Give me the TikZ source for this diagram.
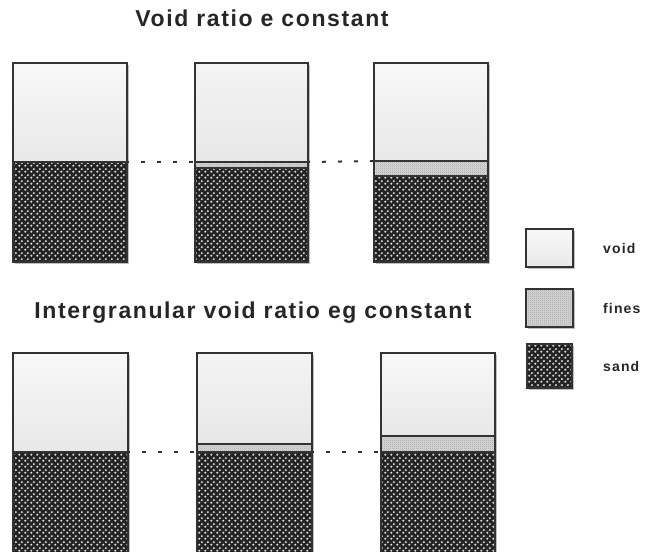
\documentclass[tikz,border=0pt]{standalone}
\usepackage{fontspec}
\setmainfont{Liberation Sans}
\newfontfamily\titlesans{Liberation Sans}[LetterSpace=7]
\newfontfamily\legendsans{Liberation Sans}[LetterSpace=8]
\usetikzlibrary{positioning, patterns, shadows}

% Koernung Sand / Feinanteil
\pgfdeclarepatternformonly{sandgrain}{\pgfqpoint{0pt}{0pt}}{\pgfqpoint{6pt}{6pt}}{\pgfqpoint{6pt}{6pt}}{%
  \pgfpathcircle{\pgfqpoint{1.5pt}{1.5pt}}{1.35pt}%
  \pgfpathcircle{\pgfqpoint{4.5pt}{4.5pt}}{1.35pt}%
  \pgfusepath{fill}}
\pgfdeclarepatternformonly{finegrain}{\pgfqpoint{0pt}{0pt}}{\pgfqpoint{2pt}{2pt}}{\pgfqpoint{2pt}{2pt}}{%
  \pgfpathcircle{\pgfqpoint{0.5pt}{0.5pt}}{0.4pt}%
  \pgfpathcircle{\pgfqpoint{1.5pt}{1.5pt}}{0.4pt}%
  \pgfusepath{fill}}

\definecolor{boxline}{HTML}{333333}
\definecolor{voidtop}{HTML}{F8F8F8}
\definecolor{voidbot}{HTML}{E8E8E8}
\definecolor{sandbg}{HTML}{232323}
\definecolor{sanddot}{HTML}{D6D6D6}
\definecolor{finesbg}{HTML}{D4D4D4}
\definecolor{finesdot}{HTML}{8E8E8E}

\tikzset{
  soilbox/.style={draw=boxline, line width=1.2pt, inner sep=0pt, outer sep=0pt,
    drop shadow={shadow xshift=2pt, shadow yshift=-2pt, fill=black, opacity=.25}},
  voidbox/.style={soilbox, top color=voidtop, bottom color=voidbot},
  voidmix/.style={soilbox, preaction={top color=voidtop, bottom color=voidbot},
    pattern=finegrain, pattern color=black!10},
  finesbox/.style={soilbox, preaction={fill=finesbg}, pattern=finegrain, pattern color=finesdot},
  sandbox/.style={soilbox, preaction={fill=sandbg}, pattern=sandgrain, pattern color=sanddot},
  topleft/.style={anchor=north west},
  levelline/.style={boxline, line width=2pt, dash pattern=on 4pt off 12pt, dash phase=-14pt},
  titletext/.style={anchor=base, inner sep=0pt, font=\titlesans\bfseries\fontsize{23}{27}\selectfont, text=black!85},
  legtext/.style={anchor=west, inner sep=0pt, font=\legendsans\bfseries\fontsize{14}{16}\selectfont, text=black!85}
}

\begin{document}
\begin{tikzpicture}[x=1pt, y=-1pt]
  \useasboundingbox (0,0) rectangle (647,551);
  \clip (0,0) rectangle (647,551);

  % Porenzahl e konstant
  \node[titletext] (t1) at (262,27) {Void ratio e constant};

  \node[voidbox, topleft, minimum width=114pt, minimum height=99pt] (v1) at (13,63) {};
  \node[sandbox, minimum width=114pt, minimum height=100pt, below=0pt of v1] (s1) {};

  \node[voidmix, topleft, minimum width=113pt, minimum height=99pt] (v2) at (195,63) {};
  \node[finesbox, minimum width=113pt, minimum height=6pt, below=0pt of v2] (f2) {};
  \node[sandbox, minimum width=113pt, minimum height=94pt, below=0pt of f2] (s2) {};

  \node[voidbox, topleft, minimum width=114pt, minimum height=98pt] (v3) at (374,63) {};
  \node[finesbox, minimum width=114pt, minimum height=15pt, below=0pt of v3] (f3) {};
  \node[sandbox, minimum width=114pt, minimum height=86pt, below=0pt of f3] (s3) {};

  \draw[levelline] (v1.south east) -- (v2.south west);
  \draw[levelline] (v2.south east) -- (v3.south west);

  % intergranulare Porenzahl eg konstant
  \node[titletext] (t2) at (253,318) {Intergranular void ratio eg constant};

  \node[voidbox, topleft, minimum width=115pt, minimum height=99pt] (w1) at (13,353) {};
  \node[sandbox, minimum width=115pt, minimum height=104pt, below=0pt of w1] (u1) {};

  \node[voidmix, topleft, minimum width=115pt, minimum height=91pt] (w2) at (197,353) {};
  \node[finesbox, minimum width=115pt, minimum height=8pt, below=0pt of w2] (g2) {};
  \node[sandbox, minimum width=115pt, minimum height=104pt, below=0pt of g2] (u2) {};

  \node[voidbox, topleft, minimum width=114pt, minimum height=83pt] (w3) at (381,353) {};
  \node[finesbox, minimum width=114pt, minimum height=16pt, below=0pt of w3] (g3) {};
  \node[sandbox, minimum width=114pt, minimum height=104pt, below=0pt of g3] (u3) {};

  \draw[levelline] (u1.north east) -- (u2.north west);
  \draw[levelline] (u2.north east) -- (u3.north west);

  % Legende
  \node[voidbox, topleft, minimum width=47pt, minimum height=38pt] (lv) at (526,229) {};
  \node[legtext, right=30pt of lv] (lvt) {void};

  \node[finesbox, topleft, minimum width=47pt, minimum height=38pt] (lf) at (526,289) {};
  \node[legtext, right=30pt of lf] (lft) {fines};

  \node[sandbox, topleft, minimum width=45pt, minimum height=44pt] (ls) at (527,344) {};
  \node[legtext, right=31pt of ls] (lst) {sand};
\end{tikzpicture}
\end{document}
